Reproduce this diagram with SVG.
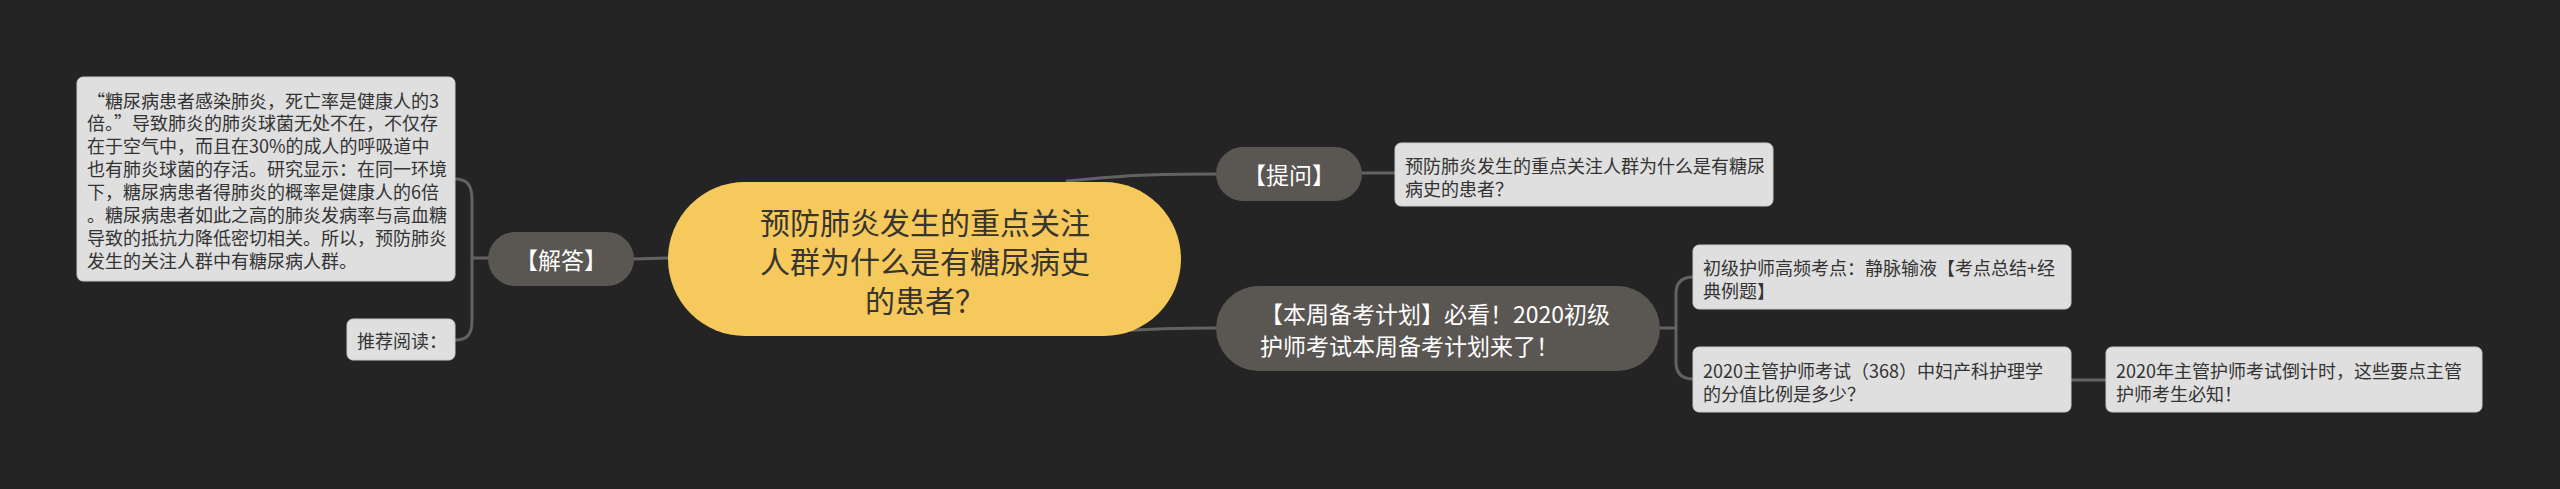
<svg xmlns="http://www.w3.org/2000/svg" width="2560" height="489" viewBox="0 0 2560 489">
<style>
.bg{fill:#242424}
.conn{fill:none;stroke:#646260;stroke-width:3;stroke-linecap:round}
.box{fill:#dfdfdf;stroke:#c9c9c9;stroke-width:1}
.pill{fill:#5a5652}
.root{fill:#f5c95b}
text{font-family:"Noto Sans CJK SC","Noto Sans",sans-serif;dominant-baseline:central}
.bt{font-size:18px;fill:#333333}
.pt{font-size:23px;fill:#ffffff}
.rt{font-size:30px;fill:#383430}
</style>
<rect class="bg" x="0" y="0" width="2560" height="489"/>
<g id="connectors">
<path class="conn" d="M668,258 L634,259"/>
<path class="conn" d="M488,258 L472,258"/>
<path class="conn" d="M455,179 C468,179 472,186 472,200 L472,320 C472,334 468,340 455,340"/>
<path class="conn" d="M1067,181 C1130,175 1150,174 1217,174"/>
<path class="conn" d="M1362,173 L1395,173"/>
<path class="conn" d="M1120,331 C1160,328 1180,328 1216,328"/>
<path class="conn" d="M1660,328 L1676,328"/>
<path class="conn" d="M1693,277 C1681,277 1676,283 1676,294 L1676,362 C1676,373 1681,379 1693,379"/>
<path class="conn" d="M2071,380 L2106,380"/>
</g>
<g id="root">
<rect class="root" x="668" y="182" width="513" height="154" rx="77"/>
<text class="rt" x="925" y="221" text-anchor="middle">预防肺炎发生的重点关注</text>
<text class="rt" x="925" y="260" text-anchor="middle">人群为什么是有糖尿病史</text>
<text class="rt" x="925" y="299" text-anchor="middle">的患者？</text>
</g>
<g id="n-jieda">
<rect class="pill" x="488" y="232" width="146" height="54" rx="27"/>
<text class="pt" x="561" y="259" text-anchor="middle">【解答】</text>
</g>
<g id="n-jieda-text">
<rect class="box" x="77" y="77" width="378" height="204" rx="6"/>
<text class="bt" x="87" y="99.5">“糖尿病患者感染肺炎，死亡率是健康人的3</text>
<text class="bt" x="87" y="122.4">倍。”导致肺炎的肺炎球菌无处不在，不仅存</text>
<text class="bt" x="87" y="145.3">在于空气中，而且在30%的成人的呼吸道中</text>
<text class="bt" x="87" y="168.2">也有肺炎球菌的存活。研究显示：在同一环境</text>
<text class="bt" x="87" y="191.1">下，糖尿病患者得肺炎的概率是健康人的6倍</text>
<text class="bt" x="87" y="214">。糖尿病患者如此之高的肺炎发病率与高血糖</text>
<text class="bt" x="87" y="236.9">导致的抵抗力降低密切相关。所以，预防肺炎</text>
<text class="bt" x="87" y="259.8">发生的关注人群中有糖尿病人群。</text>
</g>
<g id="n-tuijian">
<rect class="box" x="347" y="319" width="108" height="41" rx="6"/>
<text class="bt" x="357" y="340">推荐阅读：</text>
</g>
<g id="n-tiwen">
<rect class="pill" x="1216" y="147" width="146" height="54" rx="27"/>
<text class="pt" x="1289" y="174" text-anchor="middle">【提问】</text>
</g>
<g id="n-tiwen-text">
<rect class="box" x="1395" y="143" width="378" height="63" rx="6"/>
<text class="bt" x="1405" y="165">预防肺炎发生的重点关注人群为什么是有糖尿</text>
<text class="bt" x="1405" y="188">病史的患者？</text>
</g>
<g id="n-plan">
<rect class="pill" x="1216" y="286" width="444" height="85" rx="42.5"/>
<text class="pt" x="1260" y="313">【本周备考计划】必看！2020初级</text>
<text class="pt" x="1260" y="345">护师考试本周备考计划来了！</text>
</g>
<g id="n-a">
<rect class="box" x="1693" y="245" width="378" height="64" rx="6"/>
<text class="bt" x="1703" y="267">初级护师高频考点：静脉输液【考点总结+经</text>
<text class="bt" x="1703" y="290">典例题】</text>
</g>
<g id="n-b">
<rect class="box" x="1693" y="347" width="378" height="65" rx="6"/>
<text class="bt" x="1703" y="370">2020主管护师考试（368）中妇产科护理学</text>
<text class="bt" x="1703" y="393">的分值比例是多少？</text>
</g>
<g id="n-c">
<rect class="box" x="2106" y="347" width="376" height="65" rx="6"/>
<text class="bt" x="2116" y="370">2020年主管护师考试倒计时，这些要点主管</text>
<text class="bt" x="2116" y="393">护师考生必知！</text>
</g>
</svg>
